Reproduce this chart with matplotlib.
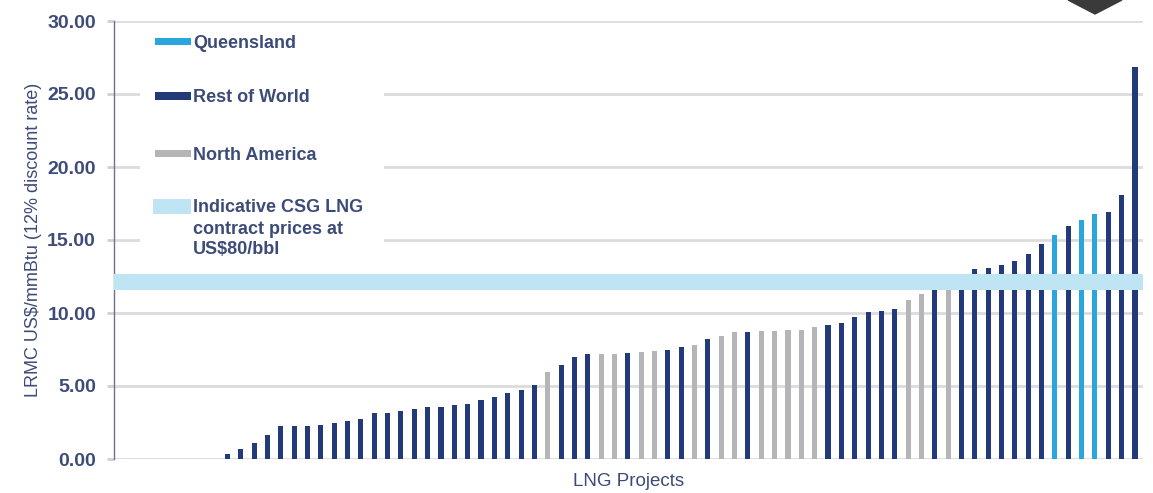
import matplotlib
matplotlib.use("Agg")
import matplotlib.pyplot as plt
from matplotlib.patches import Polygon, Rectangle

plt.rcParams['font.family'] = ['Liberation Sans', 'DejaVu Sans']

# ---- data ----
values = [0.32, 0.66, 1.07, 1.66, 2.28, 2.28, 2.28, 2.32, 2.44, 2.60,
          2.76, 3.12, 3.17, 3.30, 3.40, 3.53, 3.55, 3.69, 3.74, 4.05,
          4.24, 4.49, 4.74, 5.06, 5.97, 6.43, 6.97, 7.18, 7.18, 7.18,
          7.29, 7.33, 7.38, 7.50, 7.68, 7.79, 8.25, 8.45, 8.68, 8.68,
          8.76, 8.76, 8.86, 8.86, 9.02, 9.16, 9.32, 9.73, 10.07, 10.14,
          10.30, 10.88, 11.30, 11.80, 11.60, 11.80, 13.00, 13.10, 13.26, 13.56,
          14.01, 14.74, 15.31, 15.99, 16.34, 16.75, 16.90, 18.05, 26.86]
regions = (["R"] * 24 + ["N", "R", "R", "R", "N", "N", "R", "N", "N", "R",
            "R", "N", "R", "N", "N", "R", "N", "N", "N", "N", "N", "R", "R",
            "R", "R", "R", "R", "N", "N", "R", "N", "R", "R", "R", "R", "R",
            "R", "R", "Q", "R", "Q", "Q", "R", "R", "R"])
band_low, band_high = 11.6, 12.7
y_ticks = [0, 5, 10, 15, 20, 25, 30]
legend_labels = ["Queensland", "Rest of World", "North America",
                 ["Indicative CSG LNG", "contract prices at", "US$80/bbl"]]
x_label = "LNG Projects"
y_label = "LRMC US$/mmBtu (12% discount rate)"

# ---- styles ----
col = {"Q": "#2aa6dc", "R": "#233a7a", "N": "#b5b5b8"}
band_col = "#bfe4f4"
text_col = "#3d4b78"

W, H = 1153, 493
AX_L, AX_R, AX_T, AX_B = 114, 1143, 21, 459
fig = plt.figure(figsize=(W / 100, H / 100), dpi=100)
ax = fig.add_axes([AX_L / W, 1 - AX_B / H, (AX_R - AX_L) / W, (AX_B - AX_T) / H])


def fx(px):
    return (px - AX_L) / (AX_R - AX_L)


def fy(py):
    return (AX_B - py) / (AX_B - AX_T)


x = list(range(len(values)))
ax.bar(x, values, width=0.38, color=[col[r] for r in regions], zorder=3)
ax.axhspan(band_low, band_high, color=band_col, zorder=4, lw=0)

ax.set_xlim(-8.5, 68.6)
ax.set_ylim(0, 30)
ax.set_yticks(y_ticks)
ax.set_yticklabels([f"{v:.2f}" for v in y_ticks], color=text_col,
                   fontsize=14, fontweight="bold")
ax.set_xticks([])
ax.grid(axis="y", color="#dcdcdc", lw=2, zorder=1)
ax.set_axisbelow(True)
for s in ["top", "right", "bottom"]:
    ax.spines[s].set_visible(False)
ax.spines["left"].set_color("#6b7390")
ax.spines["left"].set_linewidth(1)
ax.tick_params(axis="y", length=5, color="#d0d0d0", width=2, pad=8)

ax.set_xlabel(x_label, color=text_col, fontsize=13.5, labelpad=10)
ax.set_ylabel(y_label, color=text_col, fontsize=13, labelpad=4)

# ---- legend (drawn as a white panel with swatches and labels) ----
ax.add_patch(Rectangle((fx(140), fy(262)), fx(384) - fx(140), fy(27) - fy(262),
                       transform=ax.transAxes, facecolor="white",
                       edgecolor="none", zorder=2))
entries = [(col["Q"], 41, 7), (col["R"], 96, 7), (col["N"], 153, 7),
           (band_col, 206, 15)]
for (c, yc, hh), lab in zip(entries, legend_labels):
    x0 = 155 if hh < 10 else 153
    ax.add_patch(Rectangle((fx(x0), fy(yc + hh / 2)), fx(191) - fx(x0),
                           fy(yc - hh / 2) - fy(yc + hh / 2),
                           transform=ax.transAxes, facecolor=c,
                           edgecolor="none", zorder=5))
    lines = lab if isinstance(lab, list) else [lab]
    for i, ln in enumerate(lines):
        ax.text(fx(193), fy(yc + 2 + i * 21), ln, transform=ax.transAxes,
                ha="left", va="center", color=text_col, fontsize=13,
                fontweight="bold", zorder=5)

# decorative cropped diamond at top-right
fig.patches.append(Polygon([(1068 / W, 1.0), (1122 / W, 1.0), (1095 / W, 1 - 14 / H)],
                           closed=True, transform=fig.transFigure,
                           color="#3a3a3a", zorder=10))

fig.savefig("out.png", dpi=100, facecolor="white")
